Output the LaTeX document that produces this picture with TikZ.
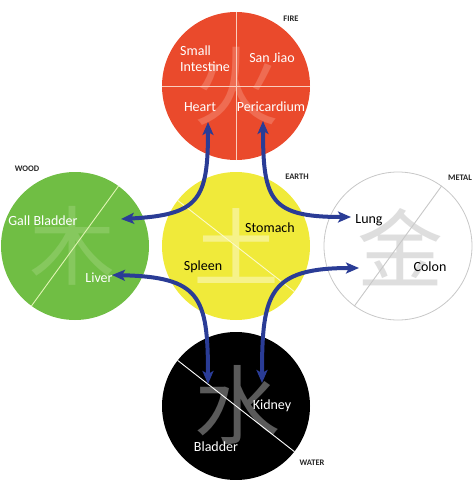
\documentclass[tikz,border=0pt]{standalone}
\usepackage{fontspec}
\setmainfont{Carlito}
\newfontfamily\cjk{Noto Sans CJK SC}
\usetikzlibrary{arrows.meta}
\definecolor{firered}{RGB}{234,74,44}
\definecolor{firechar}{RGB}{239,108,82}
\definecolor{fireline}{RGB}{250,205,190}
\definecolor{woodgreen}{RGB}{112,190,68}
\definecolor{woodchar}{RGB}{134,200,94}
\definecolor{woodline}{RGB}{225,245,180}
\definecolor{earthyellow}{RGB}{240,234,58}
\definecolor{earthchar}{RGB}{246,242,138}
\definecolor{earthline}{RGB}{252,250,200}
\definecolor{metalgray}{RGB}{200,200,200}
\definecolor{metalchar}{RGB}{222,222,222}
\definecolor{waterchar}{RGB}{90,90,90}
\definecolor{linkblue}{RGB}{42,60,150}
\tikzset{
  element/.style={circle, minimum size=148pt, inner sep=0pt},
  organ/.style={font=\fontsize{14}{16}\selectfont, inner sep=0pt},
  tag/.style={font=\bfseries\fontsize{8.5}{10}\selectfont, text=black!85, inner sep=0pt},
  glyph/.style={font=\cjk\fontsize{86}{86}\selectfont, inner sep=0pt},
  divider/.style={line width=0.9pt},
  link/.style={draw=linkblue, line width=4pt,
    {Stealth[length=13pt,width=11pt,inset=3pt]}-{Stealth[length=13pt,width=11pt,inset=3pt]}}
}
\begin{document}
\begin{tikzpicture}[x=1pt,y=-1pt]
\useasboundingbox (0,0) rectangle (474,480);
% element circles
\node[element, fill=firered] (fire) at (236,86) {};
\node[element, fill=woodgreen] (wood) at (75,246) {};
\node[element, fill=earthyellow] (earth) at (236,246) {};
\node[element, fill=white, draw=metalgray, line width=0.8pt] (metal) at (398,246) {};
\node[element, fill=black] (water) at (236,406) {};
% characters
\node[glyph, text=firechar] (firech) at (236,86) {火};
\node[glyph, text=woodchar] (woodch) at (73,246) {木};
\node[glyph, text=earthchar] (earthch) at (236,246) {土};
\node[glyph, text=metalchar] (metalch) at (400,247) {金};
\node[glyph, text=waterchar] (waterch) at (237,405) {水};
% dividers
\draw[divider, draw=fireline] (fire.north) -- (fire.south);
\draw[divider, draw=fireline] (fire.west) -- (fire.east);
\draw[divider, draw=woodline] (wood.234) -- (wood.54);
\draw[divider, draw=earthline] (earth.142) -- (earth.322);
\draw[divider, draw=metalgray] (metal.234) -- (metal.54);
\draw[divider, draw=white] (water.142) -- (water.322);
% labels
\node[organ, text=white, align=left, anchor=west] (smallint) at (180,59) {Small\\Intestine};
\node[organ, text=white] (sanjiao) at (272,58) {San Jiao};
\node[organ, text=white] (heart) at (200,107) {Heart};
\node[organ, text=white] (peri) at (271,107) {Pericardium};
\node[tag] (firetag) at (291,19) {FIRE};
\node[organ, text=white] (gall) at (43,221) {Gall Bladder};
\node[organ, text=white] (liver) at (99,278) {Liver};
\node[tag] (woodtag) at (27,169) {WOOD};
\node[organ] (stomach) at (270,228) {Stomach};
\node[organ] (spleen) at (203,267) {Spleen};
\node[tag] (earthtag) at (297,177) {EARTH};
\node[organ] (lung) at (369,220) {Lung};
\node[organ] (colon) at (430,267) {Colon};
\node[tag] (metaltag) at (460,178) {METAL};
\node[organ, text=white] (kidney) at (272,406) {Kidney};
\node[organ, text=white] (bladder) at (216,447) {Bladder};
\node[tag] (watertag) at (312,463) {WATER};
% arrow ends
\coordinate (heartpt) at (208,122);
\coordinate (gallpt) at (121,219);
\coordinate (peript) at (263,121);
\coordinate (lungpt) at (351,217);
\coordinate (liverpt) at (112,275);
\coordinate (bladpt) at (208,384);
\coordinate (colonpt) at (359,268);
\coordinate (kidneypt) at (262,383);
% arrows
\draw[link] (gallpt) .. controls +(78,-4) and +(0,78) .. (heartpt);
\draw[link] (lungpt) .. controls +(-80,0) and +(0,80) .. (peript);
\draw[link] (liverpt) .. controls +(88,2) and +(0,-88) .. (bladpt);
\draw[link] (colonpt) .. controls +(-90,0) and +(0,-90) .. (kidneypt);
\end{tikzpicture}
\end{document}
